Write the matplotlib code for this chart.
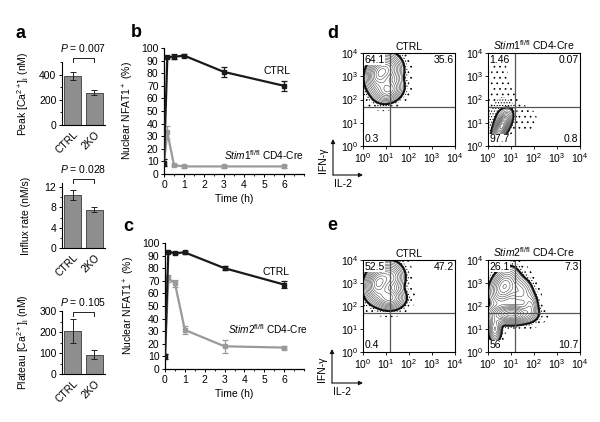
import numpy as np
import matplotlib
matplotlib.use("Agg")
import matplotlib.pyplot as plt

plt.rcParams['font.family'] = ['Liberation Sans', 'DejaVu Sans']
plt.rcParams['mathtext.fontset'] = 'custom'
plt.rcParams['mathtext.rm'] = 'Liberation Sans'
plt.rcParams['mathtext.it'] = 'Liberation Sans:italic'
plt.rcParams['font.size'] = 7
plt.rcParams['hatch.linewidth'] = 0.5

W, H = 600, 422

# ---------------- data ----------------
bar_groups = ["CTRL", "2KO"]
peak_vals = [390, 255]; peak_err = [30, 20]
influx_vals = [10.5, 7.5]; influx_err = [1.0, 0.5]
plateau_vals = [205, 92]; plateau_err = [55, 20]
p_values = ["0.007", "0.028", "0.105"]

time_h = [0, 0.167, 0.5, 1, 3, 6]
b_ctrl = [9, 93, 93, 94, 81, 70]; b_ctrl_err = [3, 1, 2, 1.5, 4, 4]
b_stim1 = [9, 33, 7, 6, 6, 6]; b_stim1_err = [3, 5, 1, 1, 1, 1]
c_ctrl = [10, 93, 92, 92.5, 80, 67]; c_ctrl_err = [2, 1, 1, 1.5, 1.5, 3]
c_stim2 = [10, 72, 68, 31, 18, 17]; c_stim2_err = [2, 3, 3, 3, 5, 1.5]

# flow quadrant percentages (UL, UR, LL, LR)
d_ctrl_q = ["64.1", "35.6", "0.3", ""]
d_stim1_q = ["1.46", "0.07", "97.7", "0.8"]
e_ctrl_q = ["52.5", "47.2", "0.4", ""]
e_stim2_q = ["26.1", "7.3", "56", "10.7"]
gate_x = 1.17   # log10 IL-2 gate
gate_y = 1.68   # log10 IFN-g gate
# density clusters: (log x centre, log y centre, sd x, sd y, corr, weight)
d_ctrl_cl = [(0.7, 3.1, 0.3, 0.4, 0.2, 1.0), (1.1, 2.4, 0.33, 0.28, 0.2, 0.8), (1.2, 3.3, 0.3, 0.35, 0.0, 0.6)]
d_stim1_cl = [(0.6, 0.85, 0.2, 0.3, 0.6, 1.0), (0.55, 1.35, 0.38, 0.45, 0.3, 0.07),
              (0.5, 2.7, 0.25, 0.7, 0.0, 0.015), (1.5, 1.15, 0.35, 0.3, 0.0, 0.02)]
e_ctrl_cl = [(0.65, 3.0, 0.3, 0.4, 0.2, 1.0), (1.15, 2.35, 0.35, 0.26, 0.0, 0.8), (1.25, 3.25, 0.3, 0.35, 0.0, 0.6)]
e_stim2_cl = [(0.7, 2.85, 0.33, 0.42, 0.3, 0.7), (1.4, 2.6, 0.3, 0.35, 0.0, 0.35), (1.0, 1.65, 0.5, 0.22, 0.0, 1.0),
              (0.3, 1.0, 0.15, 0.3, 0.0, 0.5), (1.85, 2.0, 0.18, 0.3, 0.0, 0.3)]

fig = plt.figure(figsize=(6, 4.22), dpi=100)

def add_ax(l, t, r, b):
    return fig.add_axes([l / W, 1 - b / H, (r - l) / W, (b - t) / H])

def fxy(x, y):
    return (x / W, 1 - y / H)

# ---------------- panel a ----------------
def bar_panel(box, vals, errs, ylim, ticks, minor, ylabel, ptxt, bracket_y, ptxt_y):
    ax = add_ax(*box)
    x = np.arange(len(bar_groups))
    ax.bar(x, vals, width=0.75, color='#8e8e8e', edgecolor='#3a3a3a', linewidth=0.6)
    ax.errorbar(x, vals, yerr=errs, fmt='none', ecolor='#222222', elinewidth=0.7, capsize=2.5, capthick=0.7)
    ax.set_xlim(-0.48, 1.48)
    ax.set_ylim(*ylim)
    ax.set_yticks(ticks)
    ax.set_yticks(minor, minor=True)
    ax.set_xticks(x)
    ax.set_xticklabels(bar_groups, rotation=45, ha='right', rotation_mode='anchor', fontsize=7.5)
    for s in ['top', 'right']:
        ax.spines[s].set_visible(False)
    ax.spines['left'].set_linewidth(0.8)
    ax.spines['bottom'].set_linewidth(0.8)
    ax.tick_params(axis='y', labelsize=7.5, length=2.5, width=0.7, pad=1.5)
    ax.tick_params(axis='y', which='minor', length=1.5, width=0.6)
    ax.tick_params(axis='x', length=0, pad=3)
    ax.set_ylabel(ylabel, fontsize=7.5)
    ax.yaxis.set_label_coords(-0.72, 0.5)
    bt = bracket_y
    d = (ylim[1] - ylim[0]) * 0.06
    ax.plot([0, 0, 1, 1], [bt - d, bt, bt, bt - d], color='#222222', lw=0.7, clip_on=False)
    ax.text(0.5, ptxt_y, r"$P$ = " + ptxt, ha='center', va='bottom', fontsize=7.5, clip_on=False)
    return ax

bar_panel((62, 62, 105, 125), peak_vals, peak_err, (0, 500), [0, 200, 400], [100, 300, 500],
          r"Peak [Ca$^{2+}$]$_{\rm i}$ (nM)", p_values[0], 530, 560)
bar_panel((62, 183, 105, 248), influx_vals, influx_err, (0, 12.8), [0, 4, 8, 12], [2, 6, 10],
          "Influx rate (nM/s)", p_values[1], 13.5, 14.3)
bar_panel((62, 311, 105, 374), plateau_vals, plateau_err, (0, 300), [0, 100, 200, 300], [50, 150, 250],
          r"Plateau [Ca$^{2+}$]$_{\rm i}$ (nM)", p_values[2], 295, 315)
fig.text(*fxy(15, 38), "a", fontsize=13, fontweight='bold')

# ---------------- panels b, c ----------------
def time_panel(box, ctrl, ctrl_err, ko, ko_err, ko_label, ctrl_pos, ko_pos):
    ax = add_ax(*box)
    ax.errorbar(time_h, ko, yerr=ko_err, color='#9a9a9a', lw=1.6, marker='s', ms=2.5,
                elinewidth=0.9, capsize=2, capthick=0.9, zorder=2)
    ax.errorbar(time_h, ctrl, yerr=ctrl_err, color='#1a1a1a', lw=1.6, marker='s', ms=2.5,
                elinewidth=0.9, capsize=2, capthick=0.9, zorder=3)
    ax.set_xlim(0, 7)
    ax.set_ylim(0, 100)
    ax.set_xticks([0, 1, 2, 3, 4, 5, 6])
    ax.set_xticks(np.arange(0, 7.01, 0.5), minor=True)
    ax.set_yticks(np.arange(0, 101, 10))
    for s in ['top', 'right']:
        ax.spines[s].set_visible(False)
    for s in ['left', 'bottom']:
        ax.spines[s].set_linewidth(0.9)
    ax.tick_params(labelsize=7.5, length=2.5, width=0.7, pad=1.5)
    ax.tick_params(which='minor', length=1.5, width=0.6)
    ax.set_ylabel(r"Nuclear NFAT1$^+$ (%)", fontsize=7.5)
    ax.yaxis.set_label_coords(-0.20, 0.5)
    ax.set_xlabel("Time (h)", fontsize=7.5)
    ax.xaxis.set_label_coords(0.5, -0.16)
    ax.text(ctrl_pos[0], ctrl_pos[1], "CTRL", ha='center', va='center', fontsize=7.5)
    ax.text(ko_pos[0], ko_pos[1], ko_label, ha='center', va='center', fontsize=7.3)
    return ax

time_panel((164, 48, 304, 174), b_ctrl, b_ctrl_err, b_stim1, b_stim1_err,
           r"$\mathit{Stim1}^{\mathrm{fl/fl}}$ CD4-Cre", (5.65, 82), (5.0, 15))
fig.text(*fxy(131, 37), "b", fontsize=13, fontweight='bold')
time_panel((165, 243, 304, 369), c_ctrl, c_ctrl_err, c_stim2, c_stim2_err,
           r"$\mathit{Stim2}^{\mathrm{fl/fl}}$ CD4-Cre", (5.6, 77), (5.2, 32))
fig.text(*fxy(123, 231), "c", fontsize=13, fontweight='bold')

# ---------------- panels d, e ----------------
gx = np.linspace(0, 4, 300)
GX, GY = np.meshgrid(gx, gx)

def density(clusters):
    z = np.zeros_like(GX)
    for cx, cy, sx, sy, r, w in clusters:
        dx = (GX - cx) / sx
        dy = (GY - cy) / sy
        q = (dx * dx - 2 * r * dx * dy + dy * dy) / (1 - r * r)
        z += w * np.exp(-0.5 * q)
    return z

def flow_panel(box, clusters, quads, title):
    ax = add_ax(*box)
    z = density(clusters)
    zmax = z.max()
    # scattered events around the populations
    ax.contourf(GX, GY, z, levels=[zmax * 0.004, zmax * 0.025], colors='none', hatches=['...'])
    ax.contourf(GX, GY, z, levels=[zmax * 0.025, zmax * 0.07], colors='none', hatches=['......'])
    ax.contour(GX, GY, z, levels=[zmax * 0.07], colors='#111111', linewidths=1.6)
    fr = [0.1, 0.14, 0.19, 0.25, 0.32, 0.4, 0.49, 0.59, 0.7, 0.82, 0.93]
    ax.contour(GX, GY, z, levels=[zmax * f for f in fr], colors='#4a4a4a', linewidths=0.4)
    ax.axvline(gate_x, color='#555555', lw=0.9)
    ax.axhline(gate_y, color='#555555', lw=0.9)
    ax.set_xlim(0, 4)
    ax.set_ylim(0, 4)
    ticks = [0, 1, 2, 3, 4]
    labs = [r"10$^{%d}$" % t for t in ticks]
    ax.set_xticks(ticks); ax.set_xticklabels(labs)
    ax.set_yticks(ticks); ax.set_yticklabels(labs)
    ax.tick_params(labelsize=7.5, length=2, width=0.6, pad=1.5)
    for s in ax.spines.values():
        s.set_linewidth(0.8)
    bb = dict(facecolor='white', edgecolor='none', pad=0.3)
    ul, ur, ll, lr = quads
    ax.text(0.06, 3.93, ul, ha='left', va='top', fontsize=7.5, bbox=bb)
    ax.text(3.94, 3.93, ur, ha='right', va='top', fontsize=7.5, bbox=bb)
    ax.text(0.06, 0.07, ll, ha='left', va='bottom', fontsize=7.5, bbox=bb)
    if lr:
        ax.text(3.94, 0.07, lr, ha='right', va='bottom', fontsize=7.5, bbox=bb)
    ax.set_title(title, fontsize=7.5, pad=2)
    return ax

flow_panel((363, 53, 455, 146), d_ctrl_cl, d_ctrl_q, "CTRL")
flow_panel((488, 53, 580, 146), d_stim1_cl, d_stim1_q, r"$\mathit{Stim1}^{\mathrm{fl/fl}}$ CD4-Cre")
flow_panel((363, 260, 455, 352), e_ctrl_cl, e_ctrl_q, "CTRL")
flow_panel((488, 260, 580, 352), e_stim2_cl, e_stim2_q, r"$\mathit{Stim2}^{\mathrm{fl/fl}}$ CD4-Cre")
fig.text(*fxy(327, 38), "d", fontsize=13, fontweight='bold')
fig.text(*fxy(327, 230), "e", fontsize=13, fontweight='bold')

def axis_arrows(x0, y0, ylen, xlen):
    ap = dict(arrowstyle='-|>', color='#111111', lw=0.8, mutation_scale=6, shrinkA=0, shrinkB=0)
    fig.add_artist(matplotlib.patches.FancyArrowPatch(fxy(x0, y0), fxy(x0, y0 - ylen),
                                                      transform=fig.transFigure, **ap))
    fig.add_artist(matplotlib.patches.FancyArrowPatch(fxy(x0, y0), fxy(x0 + xlen, y0),
                                                      transform=fig.transFigure, **ap))
    fig.text(*fxy(x0 - 10, y0 - ylen / 2 + 3), "IFN-γ", rotation=90, ha='center', va='center', fontsize=7.5)
    fig.text(*fxy(x0 + 1, y0 + 9), "IL-2", ha='left', va='center', fontsize=7.5)

axis_arrows(333, 175, 36, 30)
axis_arrows(332, 383, 34, 31)

fig.savefig("out.png", dpi=100)
